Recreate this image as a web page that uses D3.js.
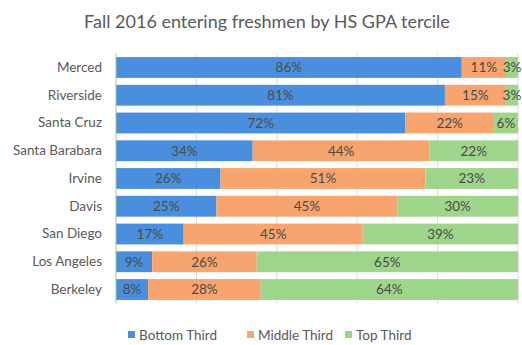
<!DOCTYPE html>
<html><head><meta charset="utf-8">
<script src="https://cdn.jsdelivr.net/npm/d3@7"></script>
<style>body{margin:0;background:#fff;} text{font-family:Lato, "Open Sans", sans-serif;}</style>
</head><body>
<svg id="chart" width="522" height="345"></svg>
<script>
const categories = ["Merced","Riverside","Santa Cruz","Santa Barabara","Irvine","Davis","San Diego","Los Angeles","Berkeley"];
const bottomThird = [86,81,72,34,26,25,17,9,8];
const middleThird = [11,15,22,44,51,45,45,26,28];
const topThird = [3,3,6,22,23,30,39,65,64];
const seriesNames = ["Bottom Third","Middle Third","Top Third"];
const colors = ["#4a8fde","#f7a46e","#9ed58a"];
const xTicks = [0,0.2,0.4,0.6,0.8,1];

const svg = d3.select("#chart");
const margin = {left:116, right:4, top:53.6, bottom:41.6};
const W = 522, H = 345;

const rows = categories.map((c,i)=>({cat:c, "Bottom Third":bottomThird[i], "Middle Third":middleThird[i], "Top Third":topThird[i]}));
const stack = d3.stack().keys(seriesNames).offset(d3.stackOffsetExpand);
const layers = stack(rows);

const x = d3.scaleLinear().domain([0,1]).range([margin.left, W-margin.right]);
const y = d3.scaleBand().domain(categories).range([margin.top, H-margin.bottom]).paddingInner(0.25).paddingOuter(0.125);

// gridlines
svg.append("g").selectAll("line").data(xTicks.slice(1)).join("line")
  .attr("x1",d=>x(d)).attr("x2",d=>x(d))
  .attr("y1",margin.top).attr("y2",H-margin.bottom)
  .attr("stroke","#d9d9d9").attr("stroke-width",1);

// bars
const g = svg.append("g");
layers.forEach((layer,li)=>{
  g.append("g").selectAll("rect").data(layer).join("rect")
    .attr("x",d=>x(d[0])).attr("width",d=>x(d[1])-x(d[0]))
    .attr("y",d=>y(d.data.cat)).attr("height",y.bandwidth())
    .attr("fill",colors[li]);
  g.append("g").selectAll("text").data(layer).join("text")
    .attr("x",d=>(x(d[0])+x(d[1]))/2)
    .attr("y",d=>y(d.data.cat)+y.bandwidth()/2)
    .attr("dy","0.36em").attr("text-anchor","middle")
    .attr("font-size",13.5).attr("fill","#4a4a4a")
    .text(d=>d.data[seriesNames[li]]+"%");
});

// axis line
svg.append("line").attr("x1",x(0)).attr("x2",x(0))
  .attr("y1",margin.top).attr("y2",H-margin.bottom)
  .attr("stroke","#9ccc7e").attr("stroke-width",1);

// y axis labels
const yAxis = d3.axisLeft(y).tickSize(0).tickPadding(14);
const ya = svg.append("g").attr("transform",`translate(${x(0)},0)`).call(yAxis);
ya.select(".domain").remove();
ya.selectAll("text").attr("font-size",13.5).attr("fill","#595959").style("font-family","Lato, 'Open Sans', sans-serif");

// title
svg.append("text").attr("x",267).attr("y",28).attr("text-anchor","middle")
  .attr("font-size",18).attr("fill","#595959").text("Fall 2016 entering freshmen by HS GPA tercile");

// legend
const legX = [128,247,345];
const leg = svg.append("g");
seriesNames.forEach((s,i)=>{
  leg.append("rect").attr("x",legX[i]).attr("y",331).attr("width",7).attr("height",7).attr("fill",colors[i]);
  leg.append("text").attr("x",legX[i]+11).attr("y",335).attr("dy","0.36em")
    .attr("font-size",13.5).attr("fill","#595959").text(s);
});
</script>
</body></html>
